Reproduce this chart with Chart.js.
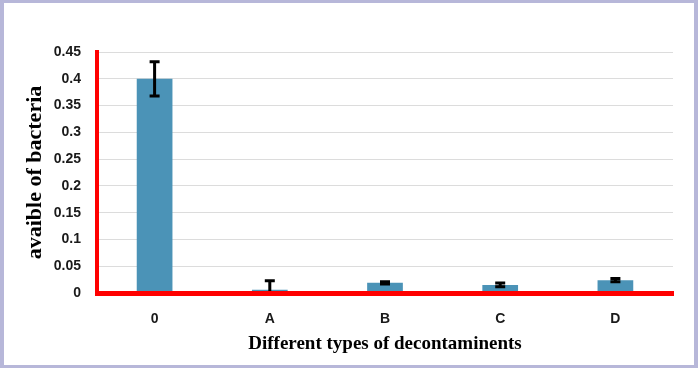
<!DOCTYPE html>
<html>
<head>
<meta charset="utf-8">
<script src="https://cdn.jsdelivr.net/npm/chart.js@4/dist/chart.umd.min.js"></script>
<style>
  html, body { margin: 0; padding: 0; }
  body { width: 698px; height: 368px; background: #b7b7d9; position: relative; overflow: hidden; }
  #box { position: absolute; left: 4px; top: 3px; width: 690px; height: 362px; background: #fff; }
</style>
</head>
<body>
<div id="box"><canvas id="chart"></canvas></div>
<script>
// Datos
const categorias = ['0', 'A', 'B', 'C', 'D'];
const valores = [0.40, 0.006, 0.019, 0.015, 0.024];
const errores = [0.032, 0.017, 0.002, 0.0035, 0.003];
const ticksY = ['0', '0.05', '0.1', '0.15', '0.2', '0.25', '0.3', '0.35', '0.4', '0.45'];

// --- Barras de error ---
const barrasError = {
    id: 'barrasError',
    afterDatasetsDraw(chart) {
        const ctx = chart.ctx;
        const y = chart.scales.y;
        const area = chart.chartArea;
        const barras = chart.getDatasetMeta(0).data;
        ctx.save();
        ctx.beginPath();
        ctx.rect(area.left, area.top, area.right - area.left, area.bottom - area.top);
        ctx.clip();
        ctx.strokeStyle = '#000';
        ctx.lineWidth = 3;
        barras.forEach((b, i) => {
            const yArriba = y.getPixelForValue(valores[i] + errores[i]);
            const yAbajo = y.getPixelForValue(valores[i] - errores[i]);
            ctx.beginPath();
            ctx.moveTo(b.x, yArriba); ctx.lineTo(b.x, yAbajo);
            ctx.moveTo(b.x - 5, yArriba); ctx.lineTo(b.x + 5, yArriba);
            ctx.moveTo(b.x - 5, yAbajo); ctx.lineTo(b.x + 5, yAbajo);
            ctx.stroke();
        });
        ctx.restore();
    }
};

const fuenteTicks = { family: '"Liberation Sans", Arial, sans-serif', size: 14, weight: 'bold' };

const ctx = document.getElementById('chart').getContext('2d');
const myChart = new Chart(ctx, {
    type: 'bar',
    data: {
        labels: categorias,
        datasets: [{ data: valores, backgroundColor: '#4b93b7', categoryPercentage: 1, barPercentage: 0.31 }]
    },
    options: {
        responsive: true,
        maintainAspectRatio: false,
        animation: false,
        layout: { padding: { top: 49, right: 21, left: 0, bottom: 0 } },
        plugins: { legend: { display: false }, tooltip: { enabled: false } },
        scales: {
            x: {
                grid: { display: false },
                border: { display: true, color: '#ff0000', width: 5, z: 1 },
                ticks: { color: '#1a1a1a', font: fuenteTicks, padding: 10 },
                title: {
                    display: true, text: 'Different types of decontaminents', color: '#000',
                    font: { family: '"Liberation Serif", "Times New Roman", serif', size: 19, weight: 'bold' },
                    padding: { top: 0, bottom: 10 }
                },
                afterFit: s => { s.height = 72; }
            },
            y: {
                min: 0, max: 0.45,
                grid: { color: '#dcdcdc', lineWidth: 1, drawTicks: false },
                border: { display: true, color: '#ff0000', width: 4, z: 1 },
                ticks: { stepSize: 0.05, color: '#1a1a1a', font: fuenteTicks, padding: 16,
                         callback: (v, i) => ticksY[i] },
                title: {
                    display: true, text: 'avaible of bacteria', color: '#000',
                    font: { family: '"Liberation Serif", "Times New Roman", serif', size: 22, weight: 'bold' },
                    padding: { top: 18, bottom: 0 }
                },
                afterFit: s => { s.width = 93; }
            }
        }
    },
    plugins: [barrasError]
});
</script>
</body>
</html>
